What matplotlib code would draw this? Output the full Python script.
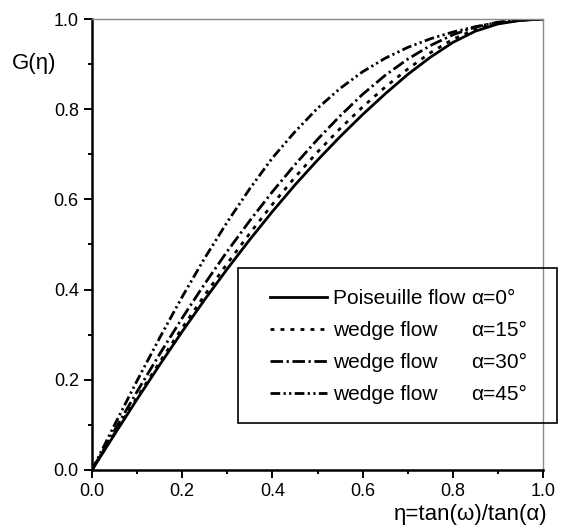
import matplotlib
matplotlib.use('Agg')
import matplotlib.pyplot as plt
from matplotlib.patches import Rectangle
import numpy as np

plt.rcParams['font.family'] = ['Liberation Sans', 'DejaVu Sans']
plt.rcParams['lines.scale_dashes'] = False

# eta = tan(omega)/tan(alpha)
eta = [0.0, 0.05, 0.1, 0.15, 0.2, 0.25, 0.3, 0.35, 0.4, 0.45, 0.5,
       0.55, 0.6, 0.65, 0.7, 0.75, 0.8, 0.85, 0.9, 0.95, 1.0]
g_poiseuille = [0.0, 0.079, 0.157, 0.233, 0.307, 0.378, 0.446, 0.511, 0.573, 0.632, 0.687,
                0.739, 0.788, 0.834, 0.877, 0.915, 0.948, 0.973, 0.989, 0.997, 1.0]
g_wedge15 = [0.0, 0.081, 0.161, 0.239, 0.315, 0.388, 0.458, 0.525, 0.589, 0.649, 0.705,
             0.757, 0.805, 0.849, 0.889, 0.925, 0.955, 0.977, 0.991, 0.998, 1.0]
g_wedge30 = [0.0, 0.088, 0.174, 0.257, 0.337, 0.413, 0.485, 0.553, 0.617, 0.677, 0.733,
             0.785, 0.833, 0.875, 0.911, 0.941, 0.965, 0.982, 0.993, 0.998, 1.0]
g_wedge45 = [0.0, 0.100, 0.198, 0.293, 0.384, 0.470, 0.550, 0.624, 0.692, 0.750, 0.802,
             0.846, 0.883, 0.913, 0.937, 0.956, 0.971, 0.983, 0.992, 0.997, 1.0]

names = ['Poiseuille flow', 'wedge flow', 'wedge flow', 'wedge flow']
angles = ['\u03b1=0\u00b0', '\u03b1=15\u00b0', '\u03b1=30\u00b0', '\u03b1=45\u00b0']
styles = ['-', (0, (2.8, 4.4)), (0, (9.0, 2.6, 1.6, 2.6)),
          (0, (7.0, 2.4, 1.6, 2.4, 1.6, 2.4))]

W, H = 573, 528
fig = plt.figure(figsize=(W / 100, H / 100), dpi=100)
ax = fig.add_axes([92 / W, (H - 470) / H, 451 / W, 451 / H])

lines = []
for g, ls, nm in zip([g_poiseuille, g_wedge15, g_wedge30, g_wedge45], styles, names):
    ln, = ax.plot(eta, g, color='black', lw=2.0, linestyle=ls, label=nm)
    lines.append(ln)

ax.set_xlim(0, 1)
ax.set_ylim(0, 1)
ax.set_xticks(np.arange(0, 1.01, 0.2))
ax.set_yticks(np.arange(0, 1.01, 0.2))
ax.set_xticks(np.arange(0.1, 1.0, 0.2), minor=True)
ax.set_yticks(np.arange(0.1, 1.0, 0.2), minor=True)
ax.xaxis.set_major_formatter(plt.FormatStrFormatter('%.1f'))
ax.yaxis.set_major_formatter(plt.FormatStrFormatter('%.1f'))
ax.tick_params(which='major', direction='out', length=5.5, width=1.4, labelsize=13, pad=4)
ax.tick_params(which='minor', direction='out', length=3.2, width=1.4)

for s in ['left', 'bottom']:
    ax.spines[s].set_linewidth(1.8)
for s in ['top', 'right']:
    ax.spines[s].set_linewidth(1.0)
    ax.spines[s].set_color('#8a8a8a')

ax.set_xlabel('\u03b7=tan(\u03c9)/tan(\u03b1)', fontsize=16, loc='right')
ax.xaxis.set_label_coords(1.009, -0.075)
ax.text(-0.078, 0.902, 'G(\u03b7)', transform=ax.transAxes, fontsize=16,
        ha='right', va='center')

# legend box
x0, x1 = (238 - 92) / 451, (557 - 92) / 451
y0, y1 = (470 - 423) / 451, (470 - 268) / 451
ax.add_patch(Rectangle((x0, y0), x1 - x0, y1 - y0, transform=ax.transAxes,
                       fill=False, edgecolor='black', lw=1.2, clip_on=False, zorder=5))
leg = ax.legend(handles=lines, loc='upper left', bbox_to_anchor=((249 - 92) / 451, y1),
                frameon=False, fontsize=15, handlelength=2.74, handletextpad=0.3,
                borderpad=1.0, borderaxespad=0, labelspacing=0.63)
leg.set_zorder(6)
for t in leg.get_lines():
    t.set_linewidth(2.0)

fig.canvas.draw()
for t, a in zip(leg.get_texts(), angles):
    bb = t.get_window_extent()
    yc = (bb.y0 + bb.y1) / 2
    fig.text(471 / W, yc / H, a, fontsize=15, ha='left', va='center')

fig.savefig('out.png', dpi=100)
